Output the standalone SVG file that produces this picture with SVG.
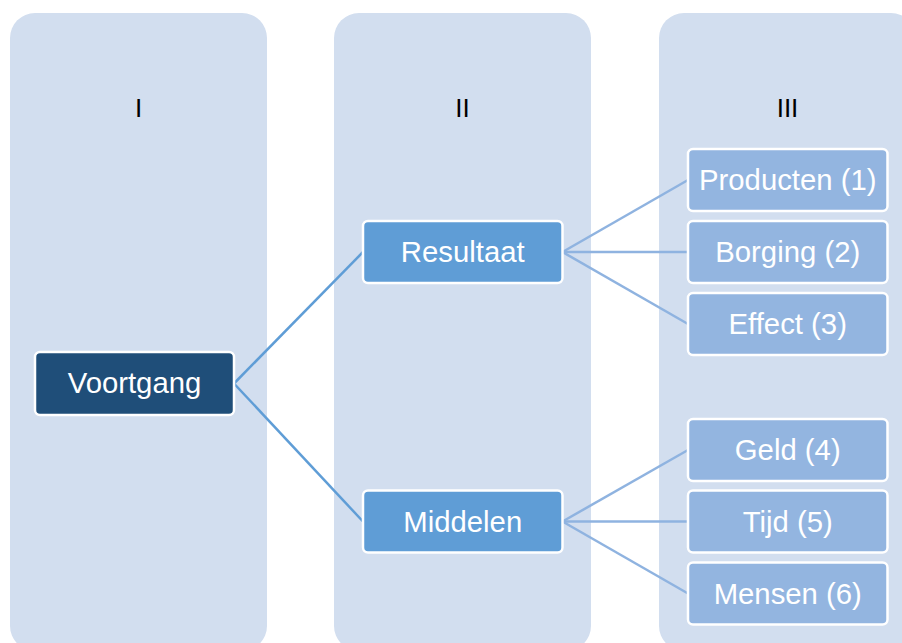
<svg xmlns="http://www.w3.org/2000/svg" width="902" height="643" viewBox="0 0 902 643">
<style>
.col{fill:#D2DEEF}
.hdr{font-family:"Liberation Sans",Arial,sans-serif;font-size:26px;fill:#000;text-anchor:middle}
.lbl{font-family:"Liberation Sans",Arial,sans-serif;font-size:29.3px;fill:#fff;text-anchor:middle}
.box{stroke:#fff;stroke-width:2.5}
.l1{fill:#1F4E79}
.l2{fill:#5F9DD6}
.l3{fill:#93B5E0}
.c1{stroke:#5F9DD6;stroke-width:2.5;fill:none}
.c2{stroke:#8FB3E0;stroke-width:2.5;fill:none}
</style>
<rect width="902" height="643" fill="#fff"/>
<g id="columns">
<rect class="col" x="10" y="13" width="257" height="638" rx="25"/>
<rect class="col" x="334" y="13" width="257" height="638" rx="25"/>
<rect class="col" x="659" y="13" width="257" height="638" rx="25"/>
<text class="hdr" x="138.5" y="117">I</text>
<text class="hdr" x="462.5" y="117">II</text>
<text class="hdr" x="787.5" y="117">III</text>
</g>
<g id="connectors">
<line class="c1" x1="234" y1="383.5" x2="363" y2="252"/>
<line class="c1" x1="234" y1="383.5" x2="363" y2="521.5"/>
<line class="c2" x1="562.5" y1="252" x2="688" y2="180"/>
<line class="c2" x1="562.5" y1="252" x2="688" y2="252"/>
<line class="c2" x1="562.5" y1="252" x2="688" y2="324"/>
<line class="c2" x1="562.5" y1="521.5" x2="688" y2="450"/>
<line class="c2" x1="562.5" y1="521.5" x2="688" y2="521.5"/>
<line class="c2" x1="562.5" y1="521.5" x2="688" y2="593.5"/>
</g>
<g id="voortgang">
<rect class="box l1" x="35" y="352" width="199" height="63" rx="5"/>
<text class="lbl" x="134.5" y="393">Voortgang</text>
</g>
<g id="resultaat">
<rect class="box l2" x="363" y="221" width="199.5" height="62" rx="5"/>
<text class="lbl" x="462.75" y="262">Resultaat</text>
</g>
<g id="middelen">
<rect class="box l2" x="363" y="490.5" width="199.5" height="62" rx="5"/>
<text class="lbl" x="462.75" y="531.5">Middelen</text>
</g>
<g id="producten">
<rect class="box l3" x="688" y="149" width="199.5" height="62" rx="5"/>
<text class="lbl" x="787.75" y="190">Producten (1)</text>
</g>
<g id="borging">
<rect class="box l3" x="688" y="221" width="199.5" height="62" rx="5"/>
<text class="lbl" x="787.75" y="262">Borging (2)</text>
</g>
<g id="effect">
<rect class="box l3" x="688" y="293" width="199.5" height="62" rx="5"/>
<text class="lbl" x="787.75" y="334">Effect (3)</text>
</g>
<g id="geld">
<rect class="box l3" x="688" y="419" width="199.5" height="62" rx="5"/>
<text class="lbl" x="787.75" y="460">Geld (4)</text>
</g>
<g id="tijd">
<rect class="box l3" x="688" y="490.5" width="199.5" height="62" rx="5"/>
<text class="lbl" x="787.75" y="531.5">Tijd (5)</text>
</g>
<g id="mensen">
<rect class="box l3" x="688" y="562.5" width="199.5" height="62" rx="5"/>
<text class="lbl" x="787.75" y="603.5">Mensen (6)</text>
</g>
</svg>
